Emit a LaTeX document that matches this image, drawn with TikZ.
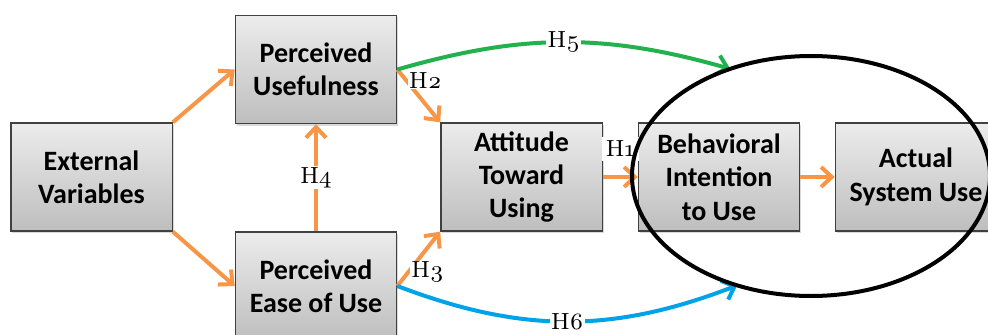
\documentclass[tikz,border=0pt]{standalone}
\usepackage{fontspec}
\usetikzlibrary{arrows.meta,shadows,shapes.geometric}

\newfontfamily\boxfont{Carlito}
\newfontfamily\hypfont{lmroman8-regular}[Extension=.otf, Numbers=OldStyle]

\definecolor{arrorange}{RGB}{247,150,70}
\definecolor{arrgreen}{RGB}{34,177,76}
\definecolor{arrblue}{RGB}{0,162,232}
\definecolor{boxtop}{RGB}{236,236,236}
\definecolor{boxbot}{RGB}{190,190,190}
\definecolor{boxline}{RGB}{64,64,64}

\tikzset{
  construct/.style={draw=boxline, line width=1pt, top color=boxtop, bottom color=boxbot,
    minimum width=121pt, minimum height=81pt, inner sep=0pt, align=center,
    font=\boxfont\bfseries\fontsize{21}{25}\selectfont,
    drop shadow={shadow xshift=1.2pt, shadow yshift=-1.5pt, opacity=0.3}},
  link/.style={draw=arrorange, line width=3pt, -{Straight Barb[length=8pt,width=15pt]}},
  hyp/.style={fill=white, inner sep=1pt, font=\hypfont\fontsize{17.5}{20}\selectfont},
  ring/.style={draw=black, line width=3pt},
}

\begin{document}
\begin{tikzpicture}[x=0.75pt, y=-0.75pt]
  \useasboundingbox (0,0) rectangle (988,335);
  \clip (0,0) rectangle (988,335);

  % constructs of the model
  \node[construct] (ext)  at (91.5,177) {External\\Variables};
  \node[construct] (pu)   at (316,69.5) {Perceived\\Usefulness};
  \node[construct] (peou) at (316,286)  {Perceived\\Ease of Use};
  \node[construct] (att)  at (521.5,177) {Attitude\\Toward\\Using};
  \node[construct] (bi)   at (719,177)  {Behavioral\\Intention\\to Use};
  \node[construct] (asu)  at (916,177)  {Actual\\System Use};

  % outline grouping intention and use (drawn at the end)
  \node[ellipse, minimum width=268.5pt, minimum height=180pt, inner sep=0pt, outer sep=0pt] (ell) at (811,176) {};

  % relations
  \draw[link] (ext.north east) -- (pu.west);
  \draw[link] (ext.south east) -- (peou.west);
  \draw[link] (peou.north) -- node[hyp] {H4} (pu.south);
  \draw[link] (pu.east) -- node[hyp, pos=0.2, anchor=west] {H2} (att.north west);
  \draw[link] (peou.east) -- node[hyp, pos=0.25, anchor=west] {H3} (att.south west);
  \draw[link] (att.east) -- node[hyp, inner sep=3pt, yshift=21pt] {H1} (bi.west);
  \draw[link] (bi.east) -- (asu.west);
  \draw[link, draw=arrgreen] (pu.east) to[bend left=16] node[hyp] {H5} (ell.127);
  \draw[link, draw=arrblue] (peou.east) to[bend right=21] node[hyp] {H6} (ell.236);

  \draw[ring] (ell.center) ellipse [x radius=134.25pt, y radius=90pt];
\end{tikzpicture}
\end{document}
